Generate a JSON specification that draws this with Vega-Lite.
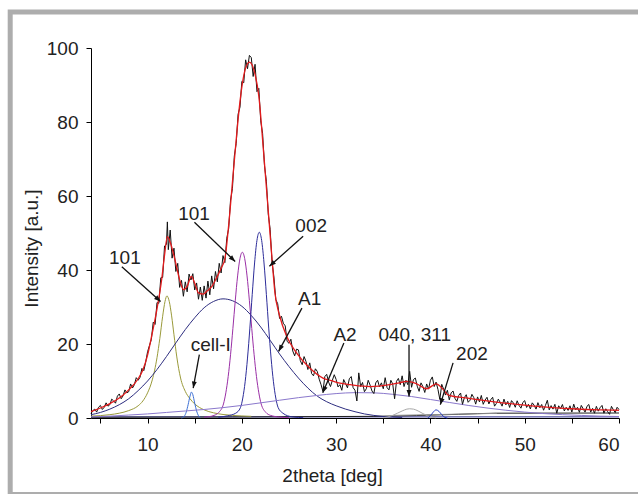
{
  "$schema": "https://vega.github.io/schema/vega-lite/v6.json",
  "width": 528,
  "height": 370,
  "autosize": {"type": "none"},
  "padding": {"left": 91, "top": 48, "right": 19, "bottom": 76},
  "background": "white",
  "config": {
    "view": {"stroke": null},
    "font": "Liberation Sans",
    "axis": {
      "grid": false,
      "domainColor": "#000000",
      "tickColor": "#000000",
      "tickSize": 5,
      "labelFont": "Liberation Sans",
      "titleFont": "Liberation Sans",
      "labelFontSize": 19,
      "titleFontSize": 19,
      "labelColor": "#222222",
      "titleColor": "#222222",
      "titleFontWeight": "normal",
      "labelOverlap": false
    }
  },
  "datasets": {
    "obs": [
      {"x":4.0,"y":1.2},{"x":4.2,"y":2.0},{"x":4.4,"y":2.4},{"x":4.6,"y":1.6},{"x":4.8,"y":2.9},{"x":5.0,"y":3.4},{"x":5.2,"y":2.3},{"x":5.4,"y":2.9},{"x":5.6,"y":4.1},{"x":5.8,"y":3.2},
      {"x":6.0,"y":3.6},{"x":6.2,"y":5.1},{"x":6.4,"y":4.6},{"x":6.6,"y":4.0},{"x":6.8,"y":5.9},{"x":7.0,"y":6.5},{"x":7.2,"y":5.2},{"x":7.4,"y":6.0},{"x":7.6,"y":7.6},{"x":7.8,"y":6.8},
      {"x":8.0,"y":7.1},{"x":8.2,"y":9.2},{"x":8.4,"y":8.1},{"x":8.6,"y":9.0},{"x":8.8,"y":10.9},{"x":9.0,"y":10.2},{"x":9.2,"y":11.0},{"x":9.4,"y":13.4},{"x":9.6,"y":12.8},{"x":9.8,"y":15.1},
      {"x":10.0,"y":17.9},{"x":10.2,"y":19.6},{"x":10.4,"y":21.2},{"x":10.6,"y":25.9},{"x":10.8,"y":25.3},{"x":11.0,"y":31.2},{"x":11.2,"y":31.0},{"x":11.4,"y":37.9},{"x":11.6,"y":38.0},{"x":11.8,"y":46.5},
      {"x":12.0,"y":46.9},{"x":12.1,"y":53.0},{"x":12.2,"y":45.5},{"x":12.4,"y":50.8},{"x":12.6,"y":43.2},{"x":12.8,"y":45.9},{"x":13.0,"y":39.6},{"x":13.2,"y":41.8},{"x":13.4,"y":35.3},{"x":13.6,"y":37.2},
      {"x":13.8,"y":32.9},{"x":14.0,"y":36.8},{"x":14.2,"y":34.1},{"x":14.4,"y":38.9},{"x":14.6,"y":37.3},{"x":14.8,"y":39.0},{"x":15.0,"y":34.6},{"x":15.2,"y":36.5},{"x":15.4,"y":32.1},{"x":15.6,"y":35.4},
      {"x":15.8,"y":31.8},{"x":16.0,"y":35.7},{"x":16.2,"y":32.4},{"x":16.4,"y":37.0},{"x":16.6,"y":33.3},{"x":16.8,"y":38.4},{"x":17.0,"y":34.9},{"x":17.2,"y":39.6},{"x":17.4,"y":36.8},{"x":17.6,"y":41.8},
      {"x":17.8,"y":39.2},{"x":18.0,"y":43.9},{"x":18.2,"y":42.0},{"x":18.4,"y":48.6},{"x":18.6,"y":51.2},{"x":18.8,"y":58.9},{"x":19.0,"y":62.0},{"x":19.2,"y":70.8},{"x":19.4,"y":74.2},{"x":19.6,"y":82.1},
      {"x":19.8,"y":84.0},{"x":20.0,"y":91.0},{"x":20.2,"y":90.6},{"x":20.4,"y":96.8},{"x":20.6,"y":94.4},{"x":20.8,"y":98.0},{"x":21.0,"y":97.4},{"x":21.2,"y":92.3},{"x":21.4,"y":95.6},{"x":21.6,"y":88.2},
      {"x":21.8,"y":89.1},{"x":22.0,"y":80.3},{"x":22.2,"y":76.9},{"x":22.4,"y":68.2},{"x":22.6,"y":64.0},{"x":22.8,"y":55.1},{"x":23.0,"y":51.0},{"x":23.2,"y":42.2},{"x":23.4,"y":38.1},{"x":23.6,"y":32.0},
      {"x":23.8,"y":30.9},{"x":24.0,"y":26.9},{"x":24.2,"y":27.5},{"x":24.4,"y":25.6},{"x":24.6,"y":24.9},{"x":24.8,"y":20.7},{"x":25.0,"y":20.2},{"x":25.2,"y":21.3},{"x":25.4,"y":18.1},{"x":25.6,"y":16.8},
      {"x":25.8,"y":18.6},{"x":26.0,"y":18.4},{"x":26.2,"y":15.5},{"x":26.4,"y":14.4},{"x":26.6,"y":16.6},{"x":26.8,"y":15.3},{"x":27.0,"y":13.1},{"x":27.2,"y":14.9},{"x":27.4,"y":12.0},{"x":27.6,"y":11.4},
      {"x":27.8,"y":13.3},{"x":28.0,"y":12.6},{"x":28.2,"y":10.5},{"x":28.4,"y":9.0},{"x":28.6,"y":7.2},{"x":28.8,"y":11.2},{"x":29.0,"y":11.8},{"x":29.2,"y":9.7},{"x":29.4,"y":8.5},{"x":29.6,"y":10.2},
      {"x":29.8,"y":11.7},{"x":30.0,"y":10.4},{"x":30.2,"y":8.4},{"x":30.4,"y":9.0},{"x":30.6,"y":7.5},{"x":30.8,"y":10.4},{"x":31.0,"y":9.3},{"x":31.2,"y":8.15},{"x":31.4,"y":10.6},{"x":31.6,"y":11.2},
      {"x":31.8,"y":8.2},{"x":32.0,"y":7.5},{"x":32.2,"y":4.6},{"x":32.4,"y":12.2},{"x":32.6,"y":8.5},{"x":32.8,"y":9.6},{"x":33.0,"y":7.1},{"x":33.2,"y":7.9},{"x":33.4,"y":10.2},{"x":33.6,"y":8.9},
      {"x":33.8,"y":7.3},{"x":34.0,"y":6.6},{"x":34.2,"y":9.5},{"x":34.4,"y":10.2},{"x":34.6,"y":8.4},{"x":34.8,"y":9.5},{"x":35.0,"y":7.9},{"x":35.2,"y":10.9},{"x":35.4,"y":8.2},{"x":35.6,"y":7.6},
      {"x":35.8,"y":10.2},{"x":36.0,"y":9.2},{"x":36.2,"y":5.2},{"x":36.4,"y":9.9},{"x":36.6,"y":10.7},{"x":36.8,"y":9.0},{"x":37.0,"y":11.4},{"x":37.2,"y":8.5},{"x":37.4,"y":10.2},{"x":37.6,"y":9.0},
      {"x":37.8,"y":12.6},{"x":38.0,"y":8.3},{"x":38.2,"y":10.4},{"x":38.4,"y":10.8},{"x":38.6,"y":8.6},{"x":38.8,"y":7.2},{"x":39.0,"y":9.5},{"x":39.2,"y":8.5},{"x":39.4,"y":6.9},{"x":39.6,"y":9.2},
      {"x":39.8,"y":7.8},{"x":40.0,"y":10.2},{"x":40.2,"y":11.1},{"x":40.4,"y":8.5},{"x":40.6,"y":9.7},{"x":40.8,"y":7.7},{"x":41.0,"y":5.0},{"x":41.2,"y":9.1},{"x":41.4,"y":7.8},{"x":41.6,"y":6.2},
      {"x":41.8,"y":7.5},{"x":42.0,"y":4.9},{"x":42.2,"y":6.8},{"x":42.4,"y":7.3},{"x":42.6,"y":5.3},{"x":42.8,"y":4.5},{"x":43.0,"y":6.1},{"x":43.2,"y":6.75},{"x":43.4,"y":3.7},{"x":43.6,"y":5.5},
      {"x":43.8,"y":6.3},{"x":44.0,"y":4.25},{"x":44.2,"y":4.8},{"x":44.4,"y":6.4},{"x":44.6,"y":5.5},{"x":44.8,"y":3.75},{"x":45.0,"y":5.7},{"x":45.2,"y":4.35},{"x":45.4,"y":6.1},{"x":45.6,"y":3.7},
      {"x":45.8,"y":4.85},{"x":46.0,"y":5.6},{"x":46.2,"y":3.8},{"x":46.4,"y":4.95},{"x":46.6,"y":5.6},{"x":46.8,"y":3.2},{"x":47.0,"y":3.95},{"x":47.2,"y":5.1},{"x":47.4,"y":4.25},{"x":47.6,"y":3.2},
      {"x":47.8,"y":5.1},{"x":48.0,"y":3.55},{"x":48.2,"y":4.5},{"x":48.4,"y":2.85},{"x":48.6,"y":4.7},{"x":48.8,"y":4.05},{"x":49.0,"y":2.9},{"x":49.2,"y":4.65},{"x":49.4,"y":3.4},{"x":49.6,"y":2.65},
      {"x":49.8,"y":4.2},{"x":50.0,"y":4.7},{"x":50.2,"y":2.85},{"x":50.4,"y":3.7},{"x":50.6,"y":2.45},{"x":50.8,"y":4.1},{"x":51.0,"y":3.45},{"x":51.2,"y":2.4},{"x":51.4,"y":4.15},{"x":51.6,"y":2.8},
      {"x":51.8,"y":3.65},{"x":52.0,"y":2.1},{"x":52.2,"y":3.4},{"x":52.4,"y":4.8},{"x":52.6,"y":2.2},{"x":52.8,"y":3.35},{"x":53.0,"y":2.4},{"x":53.2,"y":3.7},{"x":53.4,"y":1.3},{"x":53.6,"y":3.3},
      {"x":53.8,"y":2.5},{"x":54.0,"y":3.65},{"x":54.2,"y":1.9},{"x":54.4,"y":2.9},{"x":54.6,"y":2.05},{"x":54.8,"y":3.3},{"x":55.0,"y":1.6},{"x":55.2,"y":3.75},{"x":55.4,"y":2.2},{"x":55.6,"y":2.9},
      {"x":55.8,"y":1.55},{"x":56.0,"y":3.4},{"x":56.2,"y":2.5},{"x":56.4,"y":1.6},{"x":56.6,"y":3.15},{"x":56.8,"y":3.65},{"x":57.0,"y":1.6},{"x":57.2,"y":2.6},{"x":57.4,"y":1.3},{"x":57.6,"y":3.15},
      {"x":57.8,"y":1.85},{"x":58.0,"y":2.8},{"x":58.2,"y":3.4},{"x":58.4,"y":1.3},{"x":58.6,"y":2.5},{"x":58.8,"y":1.7},{"x":59.0,"y":1.0},{"x":59.2,"y":3.15},{"x":59.4,"y":2.25},{"x":59.6,"y":1.45},
      {"x":59.8,"y":2.9},{"x":60.0,"y":2.3}
    ],
    "fit": [
      {"x":4,"y":1.7},{"x":5,"y":2.7},{"x":6,"y":3.9},{"x":7,"y":5.4},{"x":8,"y":7.6},{"x":9,"y":10.6},{"x":9.5,"y":13.0},{"x":10,"y":17.0},{"x":10.5,"y":23.0},{"x":11,"y":29.5},
      {"x":11.5,"y":37.5},{"x":11.8,"y":44.0},{"x":12.1,"y":49.0},{"x":12.4,"y":47.5},{"x":12.9,"y":42.8},{"x":13.4,"y":37.4},{"x":13.8,"y":34.7},{"x":14.2,"y":35.6},{"x":14.65,"y":38.3},{"x":15.0,"y":36.4},
      {"x":15.4,"y":33.8},{"x":15.9,"y":33.5},{"x":16.3,"y":34.3},{"x":16.8,"y":35.5},{"x":17.3,"y":37.8},{"x":17.8,"y":40.5},{"x":18.2,"y":43.0},{"x":18.56,"y":51.0},{"x":19.08,"y":66.0},{"x":19.5,"y":78.0},
      {"x":19.8,"y":85.5},{"x":20.33,"y":94.0},{"x":20.8,"y":96.2},{"x":21.39,"y":93.0},{"x":21.8,"y":87.0},{"x":22.3,"y":72.0},{"x":22.8,"y":56.0},{"x":23.2,"y":43.0},{"x":23.5,"y":34.0},{"x":24.0,"y":27.7},
      {"x":24.75,"y":22.1},{"x":25.8,"y":17.6},{"x":27.2,"y":13.5},{"x":28.6,"y":10.8},{"x":29.5,"y":10.1},{"x":30.4,"y":9.4},{"x":31.5,"y":9.0},{"x":33.6,"y":8.5},{"x":35.7,"y":9.0},{"x":36.7,"y":9.5},
      {"x":37.5,"y":9.9},{"x":38.5,"y":9.3},{"x":39.6,"y":7.9},{"x":40.6,"y":9.2},{"x":41.4,"y":7.6},{"x":41.9,"y":6.2},{"x":43.5,"y":5.5},{"x":45.3,"y":4.9},{"x":47,"y":4.3},{"x":50,"y":3.5},
      {"x":52,"y":3.0},{"x":55,"y":2.5},{"x":58,"y":2.2},{"x":60,"y":2.1}
    ],
    "comp": [
      {"c":"base","x":4,"y":0.3},{"c":"base","x":60,"y":0.3},
      {"c":"base2","x":4,"y":0.2},{"c":"base2","x":34,"y":0.45},{"c":"base2","x":43,"y":1.0},{"c":"base2","x":47,"y":1.3},{"c":"base2","x":60,"y":1.35},
      {"c":"base3","x":36,"y":0.7},{"c":"base3","x":47,"y":1.25},
      {"c":"p101a","x":4,"y":0.5},{"c":"p101a","x":5,"y":0.65},{"c":"p101a","x":6,"y":0.9},{"c":"p101a","x":7,"y":1.3},{"c":"p101a","x":8,"y":2.0},{"c":"p101a","x":9,"y":3.3},{"c":"p101a","x":9.5,"y":4.6},{"c":"p101a","x":10,"y":6.8},{"c":"p101a","x":10.5,"y":10.3},{"c":"p101a","x":11,"y":16.3},{"c":"p101a","x":11.3,"y":21.5},{"c":"p101a","x":11.6,"y":27.5},{"c":"p101a","x":11.85,"y":31.5},{"c":"p101a","x":12.05,"y":33.0},{"c":"p101a","x":12.3,"y":31.5},{"c":"p101a","x":12.55,"y":27.6},{"c":"p101a","x":12.8,"y":22.5},{"c":"p101a","x":13.1,"y":16.5},{"c":"p101a","x":13.5,"y":10.8},{"c":"p101a","x":14,"y":7.2},{"c":"p101a","x":14.5,"y":5.2},{"c":"p101a","x":15,"y":3.8},{"c":"p101a","x":16,"y":2.2},{"c":"p101a","x":17,"y":1.4},{"c":"p101a","x":18,"y":0.95},{"c":"p101a","x":19,"y":0.7},{"c":"p101a","x":20,"y":0.55},{"c":"p101a","x":21,"y":0.45},
      {"c":"cell","x":13.6,"y":0.0},{"c":"cell","x":13.9,"y":0.5},{"c":"cell","x":14.1,"y":1.6},{"c":"cell","x":14.3,"y":3.6},{"c":"cell","x":14.5,"y":5.9},{"c":"cell","x":14.65,"y":7.0},{"c":"cell","x":14.8,"y":6.3},{"c":"cell","x":15.0,"y":4.0},{"c":"cell","x":15.2,"y":1.9},{"c":"cell","x":15.4,"y":0.6},{"c":"cell","x":15.6,"y":0.1},
      {"c":"A1","x":4,"y":0.9},{"c":"A1","x":5,"y":1.5},{"c":"A1","x":6,"y":2.4},{"c":"A1","x":7,"y":3.6},{"c":"A1","x":8,"y":5.2},{"c":"A1","x":9,"y":7.4},{"c":"A1","x":10,"y":10.0},{"c":"A1","x":11,"y":13.1},{"c":"A1","x":12,"y":16.6},{"c":"A1","x":13,"y":20.3},{"c":"A1","x":14,"y":23.9},{"c":"A1","x":15,"y":27.1},{"c":"A1","x":16,"y":29.8},{"c":"A1","x":17,"y":31.5},{"c":"A1","x":18,"y":32.2},{"c":"A1","x":19,"y":31.7},{"c":"A1","x":20,"y":30.2},{"c":"A1","x":21,"y":27.7},{"c":"A1","x":22,"y":24.6},{"c":"A1","x":23,"y":21.0},{"c":"A1","x":24,"y":17.3},{"c":"A1","x":25,"y":13.9},{"c":"A1","x":26,"y":10.8},{"c":"A1","x":27,"y":8.1},{"c":"A1","x":28,"y":5.9},{"c":"A1","x":29,"y":4.4},{"c":"A1","x":30,"y":3.3},{"c":"A1","x":31,"y":2.4},{"c":"A1","x":32,"y":1.7},{"c":"A1","x":33,"y":1.1},{"c":"A1","x":34,"y":0.7},{"c":"A1","x":35,"y":0.4},{"c":"A1","x":36,"y":0.25},{"c":"A1","x":37,"y":0.15},
      {"c":"p101b","x":16.0,"y":0.2},{"c":"p101b","x":17.05,"y":0.7},{"c":"p101b","x":17.55,"y":1.5},{"c":"p101b","x":18.05,"y":3.8},{"c":"p101b","x":18.3,"y":6.8},{"c":"p101b","x":18.55,"y":11.2},{"c":"p101b","x":18.8,"y":17.1},{"c":"p101b","x":19.05,"y":24.2},{"c":"p101b","x":19.3,"y":31.7},{"c":"p101b","x":19.55,"y":38.4},{"c":"p101b","x":19.8,"y":43.1},{"c":"p101b","x":20.05,"y":44.8},{"c":"p101b","x":20.3,"y":43.1},{"c":"p101b","x":20.55,"y":38.4},{"c":"p101b","x":20.8,"y":31.7},{"c":"p101b","x":21.05,"y":24.2},{"c":"p101b","x":21.3,"y":17.1},{"c":"p101b","x":21.55,"y":11.2},{"c":"p101b","x":21.8,"y":6.8},{"c":"p101b","x":22.05,"y":3.8},{"c":"p101b","x":22.55,"y":1.5},{"c":"p101b","x":23.05,"y":0.7},{"c":"p101b","x":24.0,"y":0.25},{"c":"p101b","x":25.0,"y":0.1},
      {"c":"p002","x":17.5,"y":0.2},{"c":"p002","x":18.5,"y":0.6},{"c":"p002","x":19.35,"y":1.3},{"c":"p002","x":19.85,"y":2.8},{"c":"p002","x":20.1,"y":5.4},{"c":"p002","x":20.35,"y":9.8},{"c":"p002","x":20.6,"y":16.2},{"c":"p002","x":20.85,"y":24.3},{"c":"p002","x":21.1,"y":33.4},{"c":"p002","x":21.35,"y":41.9},{"c":"p002","x":21.6,"y":48.0},{"c":"p002","x":21.85,"y":50.2},{"c":"p002","x":22.1,"y":48.0},{"c":"p002","x":22.35,"y":41.9},{"c":"p002","x":22.6,"y":33.4},{"c":"p002","x":22.85,"y":24.3},{"c":"p002","x":23.1,"y":16.2},{"c":"p002","x":23.35,"y":9.8},{"c":"p002","x":23.6,"y":5.4},{"c":"p002","x":23.85,"y":2.8},{"c":"p002","x":24.35,"y":1.3},{"c":"p002","x":24.85,"y":0.6},{"c":"p002","x":25.5,"y":0.25},{"c":"p002","x":26.5,"y":0.1},
      {"c":"A2","x":4,"y":0.3},{"c":"A2","x":6,"y":0.5},{"c":"A2","x":8,"y":0.8},{"c":"A2","x":10,"y":1.1},{"c":"A2","x":12,"y":1.5},{"c":"A2","x":14,"y":1.9},{"c":"A2","x":16,"y":2.3},{"c":"A2","x":18,"y":2.8},{"c":"A2","x":20,"y":3.4},{"c":"A2","x":22,"y":4.1},{"c":"A2","x":24,"y":4.8},{"c":"A2","x":26,"y":5.5},{"c":"A2","x":28,"y":6.1},{"c":"A2","x":30,"y":6.6},{"c":"A2","x":32,"y":6.85},{"c":"A2","x":34,"y":6.8},{"c":"A2","x":36,"y":6.4},{"c":"A2","x":38,"y":5.8},{"c":"A2","x":40,"y":5.0},{"c":"A2","x":42,"y":4.2},{"c":"A2","x":44,"y":3.4},{"c":"A2","x":46,"y":2.7},{"c":"A2","x":48,"y":2.1},{"c":"A2","x":50,"y":1.6},{"c":"A2","x":52,"y":1.2},{"c":"A2","x":54,"y":0.9},{"c":"A2","x":56,"y":0.7},{"c":"A2","x":58,"y":0.5},{"c":"A2","x":60,"y":0.4},
      {"c":"p040","x":35.0,"y":0.1},{"c":"p040","x":35.5,"y":0.3},{"c":"p040","x":36.0,"y":0.7},{"c":"p040","x":36.5,"y":1.3},{"c":"p040","x":37.0,"y":1.9},{"c":"p040","x":37.5,"y":2.4},{"c":"p040","x":37.8,"y":2.5},{"c":"p040","x":38.2,"y":2.4},{"c":"p040","x":38.7,"y":1.9},{"c":"p040","x":39.2,"y":1.2},{"c":"p040","x":39.7,"y":0.6},{"c":"p040","x":40.2,"y":0.2},{"c":"p040","x":40.6,"y":0.05},
      {"c":"p202","x":39.7,"y":0.0},{"c":"p202","x":40.0,"y":0.6},{"c":"p202","x":40.3,"y":1.6},{"c":"p202","x":40.6,"y":2.2},{"c":"p202","x":40.9,"y":1.8},{"c":"p202","x":41.2,"y":0.9},{"c":"p202","x":41.5,"y":0.2},{"c":"p202","x":41.8,"y":0.0}
    ],
    "arrows": [
      {"x":7.27,"y":40.9,"x2":11.38,"y2":31.5},
      {"x":14.97,"y":52.9,"x2":19.29,"y2":42.3},
      {"x":26.5,"y":49.1,"x2":22.92,"y2":41.0},
      {"x":26.37,"y":29.7,"x2":23.9,"y2":18.0},
      {"x":15.49,"y":17.1,"x2":14.84,"y2":8.1},
      {"x":30.82,"y":20.3,"x2":28.58,"y2":6.8},
      {"x":37.73,"y":19.8,"x2":37.73,"y2":5.8},
      {"x":42.4,"y":14.9,"x2":41.05,"y2":3.6}
    ],
    "labels": [
      {"t":"101","x":7.59,"y":43.3},
      {"t":"101","x":14.93,"y":55.1},
      {"t":"002","x":27.35,"y":51.8},
      {"t":"A1","x":27.2,"y":32.1},
      {"t":"cell-I","x":16.7,"y":19.8},
      {"t":"A2","x":30.94,"y":22.4},
      {"t":"040, 311","x":38.33,"y":22.4},
      {"t":"202","x":44.4,"y":17.2}
    ]
  },
  "layer": [
    {
      "data": {"values": [{}]},
      "mark": {"type": "rect", "fill": null, "fillOpacity": 0, "stroke": "#adadad", "strokeWidth": 5, "clip": false},
      "encoding": {
        "x": {"datum": -4.57, "type": "quantitative"},
        "x2": {"datum": 62.5},
        "y": {"datum": 109.7, "type": "quantitative"},
        "y2": {"datum": -20.7}
      }
    },
    {
      "data": {"name": "comp"},
      "mark": {"type": "line", "interpolate": "monotone", "strokeWidth": 1},
      "encoding": {
        "x": {
          "field": "x", "type": "quantitative",
          "scale": {"domain": [4, 60], "nice": false, "zero": false},
          "axis": {
            "title": "2theta [deg]",
            "values": [5,10,15,20,25,30,35,40,45,50,55,60],
            "labelExpr": "datum.value % 10 === 0 ? datum.label : ''",
            "labelBaseline": "alphabetic",
            "labelPadding": 27,
            "titleX": 241,
            "titleY": 63,
            "titleAlign": "center",
            "titleBaseline": "alphabetic"
          }
        },
        "y": {
          "field": "y", "type": "quantitative",
          "scale": {"domain": [0, 100], "nice": false},
          "axis": {
            "title": "Intensity [a.u.]",
            "values": [0,10,20,30,40,50,60,70,80,90,100],
            "labelExpr": "datum.value % 20 === 0 ? datum.label : ''",
            "labelPadding": 8,
            "titleX": -54,
            "titleY": 200,
            "titleAngle": -90,
            "titleAlign": "center",
            "titleBaseline": "alphabetic"
          }
        },
        "color": {
          "field": "c", "type": "nominal", "legend": null,
          "scale": {
            "domain": ["base","base2","base3","p101a","cell","A1","p101b","p002","A2","p040","p202"],
            "range": ["#2a2a8a","#202020","#8c8c8c","#9a9a3a","#3b6fd4","#2d2d80","#9a2fa6","#2c2c99","#8a78cc","#a8a8a8","#2a3fc0"]
          }
        }
      }
    },
    {
      "data": {"name": "obs"},
      "mark": {"type": "line", "color": "#111111", "strokeWidth": 1},
      "encoding": {
        "x": {"field": "x", "type": "quantitative"},
        "y": {"field": "y", "type": "quantitative"}
      }
    },
    {
      "data": {"name": "fit"},
      "mark": {"type": "line", "color": "#e31a1c", "strokeWidth": 1.3, "interpolate": "monotone"},
      "encoding": {
        "x": {"field": "x", "type": "quantitative"},
        "y": {"field": "y", "type": "quantitative"}
      }
    },
    {
      "data": {"name": "arrows"},
      "mark": {"type": "rule", "color": "#111111", "strokeWidth": 1.3},
      "encoding": {
        "x": {"field": "x", "type": "quantitative"},
        "y": {"field": "y", "type": "quantitative"},
        "x2": {"field": "x2"},
        "y2": {"field": "y2"}
      }
    },
    {
      "data": {"name": "arrows"},
      "transform": [
        {"calculate": "(atan2((datum.x2 - datum.x) * 9.4286, (datum.y2 - datum.y) * 3.7) * 180 / PI + 360) % 360", "as": "ang"}
      ],
      "mark": {"type": "point", "shape": "M0,0L-0.38,1L0.38,1Z", "filled": true, "color": "#111111", "opacity": 1, "size": 170},
      "encoding": {
        "x": {"field": "x2", "type": "quantitative"},
        "y": {"field": "y2", "type": "quantitative"},
        "angle": {"field": "ang", "type": "quantitative", "scale": null}
      }
    },
    {
      "data": {"name": "labels"},
      "mark": {"type": "text", "font": "Liberation Sans", "fontSize": 19, "color": "#222222", "align": "center", "baseline": "middle"},
      "encoding": {
        "x": {"field": "x", "type": "quantitative"},
        "y": {"field": "y", "type": "quantitative"},
        "text": {"field": "t"}
      }
    }
  ]
}
